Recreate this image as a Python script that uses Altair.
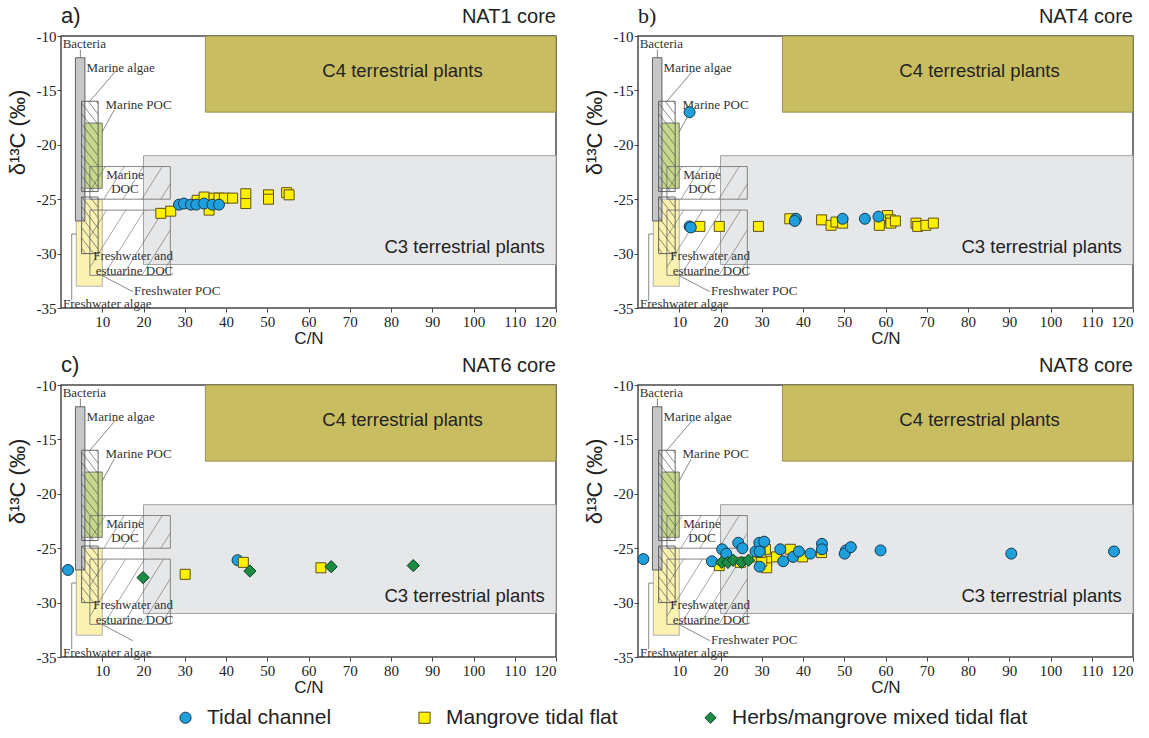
import altair as alt
import pandas as pd

W, H = 495, 272
X_MIN, X_MAX = 0, 120
Y_MIN, Y_MAX = -35, -10

ENVS = ["Tidal channel", "Mangrove tidal flat", "Herbs/mangrove mixed tidal flat"]
FILLS = ["#1fa0dd", "#fff000", "#1b8b45"]
STROKES = ["#16384f", "#5e5018", "#0f3e22"]
SHAPES = ["circle", "square", "diamond"]
SIZES = {"Tidal channel": 120, "Mangrove tidal flat": 100, "Herbs/mangrove mixed tidal flat": 150}

# ---- sample values (C/N, d13C) per core and environment ----
nat1_tidal_cn = [28.6, 29.8, 31.5, 32.8, 34.7, 36.7, 38.3]
nat1_tidal_d13c = [-25.5, -25.4, -25.5, -25.5, -25.4, -25.5, -25.5]
nat1_mangrove_cn = [24.2, 26.6, 33.0, 34.7, 35.9, 37.1, 38.3, 39.6, 41.6, 44.8, 44.8, 50.3, 50.3, 54.7, 55.3]
nat1_mangrove_d13c = [-26.3, -26.1, -25.1, -24.8, -26.0, -24.9, -24.9, -24.9, -24.9, -24.5, -25.4, -24.6, -25.0, -24.4, -24.6]

nat4_tidal_cn = [12.5, 12.5, 12.8, 38.3, 38.0, 49.6, 55.0, 58.3]
nat4_tidal_d13c = [-17.0, -27.5, -27.6, -26.8, -27.0, -26.8, -26.8, -26.6]
nat4_mangrove_cn = [15.0, 19.7, 29.2, 36.8, 44.5, 46.8, 48.0, 49.6, 58.5, 60.5, 61.2, 61.3, 62.4, 67.4, 67.8, 69.8, 71.6]
nat4_mangrove_d13c = [-27.5, -27.5, -27.5, -26.8, -26.9, -27.4, -27.1, -27.2, -27.4, -26.5, -26.9, -27.2, -27.0, -27.2, -27.5, -27.4, -27.2]

nat6_tidal_cn = [1.7, 42.8]
nat6_tidal_d13c = [-27.0, -26.1]
nat6_mangrove_cn = [30.1, 44.2, 63.0]
nat6_mangrove_d13c = [-27.4, -26.3, -26.8]
nat6_herbs_cn = [19.9, 45.8, 65.5, 85.4]
nat6_herbs_d13c = [-27.7, -27.1, -26.7, -26.6]

nat8_tidal_cn = [1.3, 17.9, 20.4, 21.4, 24.3, 25.3, 28.5, 29.4, 30.6, 29.5, 29.5, 34.5, 35.2, 37.6,
                 39.0, 41.8, 44.6, 44.6, 50.4, 50.1, 51.6, 58.8, 90.5, 115.4]
nat8_tidal_d13c = [-26.0, -26.2, -25.1, -25.5, -24.5, -25.0, -25.3, -24.5, -24.4, -25.3, -26.7, -25.1, -26.2, -25.8,
                   -25.3, -25.5, -24.6, -25.1, -25.2, -25.5, -24.9, -25.2, -25.5, -25.3]
nat8_mangrove_cn = [19.7, 24.8, 29.0, 30.9, 31.2, 31.2, 30.0, 33.6, 36.9, 39.9, 44.5, 29.6]
nat8_mangrove_d13c = [-26.6, -26.3, -25.8, -25.1, -26.2, -26.8, -26.2, -25.8, -25.1, -25.8, -25.4, -25.4]
nat8_herbs_cn = [20.3, 21.8, 23.1, 25.1, 26.8]
nat8_herbs_d13c = [-26.3, -26.3, -26.1, -26.3, -26.1]

# ---- source end-member fields (C/N range, d13C range) ----
c4_box = (35, 120, -10, -17)
c3_box = (20, 120, -21, -31)
bacteria_box = (3.5, 5.8, -12, -27)
marine_algae_box = (3.7, 10, -18, -24)
freshwater_algae_box = (3.7, 10, -25, -33)
marine_poc_box = (5, 9, -16, -24.3)
freshwater_poc_box = (5, 9, -24.8, -30)
marine_doc_box = (7, 26.5, -22, -25)
freshwater_doc_box = (7, 26.5, -26, -32)

# annotation text and leader lines (C/N, d13C)
source_labels = [
    ("Bacteria", 0.4, -10.75, "left"),
    ("Marine algae", 6.2, -12.9, "left"),
    ("Marine POC", 10.8, -16.3, "left"),
    ("Marine", 15.5, -22.75, "center"),
    ("DOC", 15.5, -24.1, "center"),
    ("Freshwater and", 7.8, -30.2, "left"),
    ("estuarine DOC", 8.4, -31.6, "left"),
    ("Freshwater POC", 17.7, -33.4, "left"),
    ("Freshwater algae", 0.5, -34.6, "left"),
]
leaders = [
    (4.7, -11.25, 4.7, -12.0),
    (13.3, -13.2, 7.0, -16.0),
    (12.9, -16.8, 10.0, -18.8),
    (17.4, -33.5, 9.9, -32.0),
    (2.6, -34.3, 2.6, -28.2),
    (2.6, -28.2, 3.7, -28.2),
]

PX = W / (X_MAX - X_MIN)
PY = H / (Y_MAX - Y_MIN)


def hatch(box, slope, step):
    """Diagonal hatch segments clipped to a box; slope and step in screen pixels."""
    x0, x1 = sorted(box[:2])
    y0, y1 = sorted(box[2:])
    X0, X1 = x0 * PX, x1 * PX
    Y0, Y1 = (y0 - Y_MIN) * PY, (y1 - Y_MIN) * PY
    k = slope
    if k > 0:
        c_lo, c_hi = Y0 - k * X1, Y1 - k * X0
    else:
        c_lo, c_hi = Y0 - k * X0, Y1 - k * X1
    dc = abs(k) * step
    segs = []
    c = c_lo + dc / 2
    while c < c_hi:
        if k > 0:
            xa, xb = max(X0, (Y0 - c) / k), min(X1, (Y1 - c) / k)
        else:
            xa, xb = max(X0, (Y1 - c) / k), min(X1, (Y0 - c) / k)
        if xb - xa > 0.5:
            segs.append((xa / PX, (k * xa + c) / PY + Y_MIN, xb / PX, (k * xb + c) / PY + Y_MIN))
        c += dc
    return segs


XSCALE = alt.Scale(domain=[X_MIN, X_MAX], nice=False, zero=False)
YSCALE = alt.Scale(domain=[Y_MIN, Y_MAX], nice=False, zero=False)
XAXIS = alt.Axis(values=list(range(10, 121, 10)), title="C/N", grid=False, domain=False,
                 tickSize=4, tickColor="#444", labelFont="Liberation Serif", labelFontSize=15,
                 labelColor="#222", labelPadding=2, titleFont="Liberation Sans", titleFontSize=17,
                 titleFontWeight="normal", titleColor="#222", titlePadding=1)
YAXIS = alt.Axis(values=[-35, -30, -25, -20, -15, -10], labelExpr="'' + datum.value",
                 title="δ¹³C (‰)", grid=False, domain=False, tickSize=4, tickColor="#444",
                 labelFont="Liberation Serif", labelFontSize=15, labelColor="#222", labelPadding=1,
                 titleFont="Liberation Sans", titleFontSize=22, titleFontWeight="normal",
                 titleColor="#222", titleX=-32, titleY=96)


def xe(f):
    return alt.X(f, type="quantitative", scale=XSCALE, axis=XAXIS)


def ye(f):
    return alt.Y(f, type="quantitative", scale=YSCALE, axis=YAXIS)


def box_df(boxes):
    return pd.DataFrame(boxes, columns=["x", "x2", "y", "y2"])


def rect_layer(box, fill, stroke, width=1.0):
    return alt.Chart(box_df([box])).mark_rect(fill=fill, stroke=stroke, strokeWidth=width).encode(
        x=xe("x"), x2="x2", y=ye("y"), y2="y2")


def outline_layer(boxes, stroke, width=0.9):
    return alt.Chart(box_df(boxes)).mark_rect(fillOpacity=0, stroke=stroke, strokeWidth=width).encode(
        x=xe("x"), x2="x2", y=ye("y"), y2="y2")


def segment_layer(segs, stroke, width):
    df = pd.DataFrame(segs, columns=["x", "y", "x2", "y2"])
    return alt.Chart(df).mark_rule(stroke=stroke, strokeWidth=width).encode(
        x=xe("x"), x2="x2", y=ye("y"), y2="y2")


LEG = alt.Legend(orient="none", legendX=114, legendY=671, direction="horizontal", title=None,
                 labelFont="Liberation Sans", labelFontSize=21, labelColor="#222", labelLimit=500,
                 symbolSize=125, symbolStrokeWidth=1, columnPadding=82, labelOffset=11)


def point_layer(env, cn, d):
    df = pd.DataFrame({"cn": cn, "d13c": d, "env": env})
    return alt.Chart(df).mark_point(filled=True, opacity=1, strokeWidth=1, size=SIZES[env]).encode(
        x=xe("cn"), y=ye("d13c"),
        shape=alt.Shape("env:N", scale=alt.Scale(domain=ENVS, range=SHAPES), legend=LEG),
        fill=alt.Fill("env:N", scale=alt.Scale(domain=ENVS, range=FILLS), legend=LEG),
        stroke=alt.Stroke("env:N", scale=alt.Scale(domain=ENVS, range=STROKES), legend=LEG),
    )


def panel(letter, letter_font, core, series, show_fw_poc=True):
    labels = [l for l in source_labels if show_fw_poc or l[0] != "Freshwater POC"]
    lab_df = pd.DataFrame(labels, columns=["text", "x", "y", "align"])

    hatch_doc = hatch(marine_doc_box, 1.6, 19) + hatch(freshwater_doc_box, 1.6, 19)
    hatch_poc = hatch(marine_poc_box, -1.3, 8) + hatch(freshwater_poc_box, -1.3, 8)

    layers = [
        rect_layer(c3_box, "#e6e7e9", "#a3a3a3", 1.0),
        rect_layer(c4_box, "#c9bd62", "#8c8040", 0.8),
        rect_layer(marine_algae_box, "#c6d88b", "#6b6b6b", 0.9),
        rect_layer(freshwater_algae_box, "#fbf2b1", "#a8a8a8", 0.9),
        rect_layer(bacteria_box, "#c6c7c9", "#555555", 0.9),
        segment_layer(hatch_doc, "#666666", 0.6),
        outline_layer([marine_doc_box, freshwater_doc_box], "#777777", 0.9),
        segment_layer(hatch_poc, "#444444", 0.6),
        outline_layer([marine_poc_box, freshwater_poc_box], "#555555", 0.9),
        segment_layer(leaders, "#555555", 0.7),
    ]
    for al in ["left", "center"]:
        sub = lab_df[lab_df["align"] == al]
        layers.append(
            alt.Chart(sub).mark_text(align=al, baseline="middle", font="Liberation Serif",
                                     fontSize=13, color="#333").encode(
                x=xe("x"), y=ye("y"), text="text:N"))
    plant_df = pd.DataFrame({"text": ["C4 terrestrial plants", "C3 terrestrial plants"],
                             "x": [82.8, 117.3], "y": [-13.2, -29.4], "align": ["center", "right"]})
    for al in ["center", "right"]:
        layers.append(
            alt.Chart(plant_df[plant_df["align"] == al]).mark_text(
                align=al, baseline="middle", font="Liberation Sans", fontSize=18.5,
                color="#222").encode(x=xe("x"), y=ye("y"), text="text:N"))

    for env, cn, d in series:
        layers.append(point_layer(env, cn, d))

    title_df = pd.DataFrame({"letter": [letter], "core": [core]})
    if letter:
        layers.append(alt.Chart(title_df).mark_text(
            align="left", baseline="middle", font=letter_font, fontSize=22, color="#222").encode(
            x=alt.value(0), y=alt.value(-20), text="letter:N"))
    layers.append(alt.Chart(title_df).mark_text(
        align="right", baseline="middle", font="Liberation Sans", fontSize=20, color="#222").encode(
        x=alt.value(W), y=alt.value(-19), text="core:N"))

    return alt.layer(*layers).properties(width=W, height=H)


T, M, HB = ENVS
pa = panel("a)", "Liberation Sans", "NAT1 core",
           [(M, nat1_mangrove_cn, nat1_mangrove_d13c), (T, nat1_tidal_cn, nat1_tidal_d13c)])
pb = panel("b)", "Liberation Serif", "NAT4 core",
           [(M, nat4_mangrove_cn, nat4_mangrove_d13c), (T, nat4_tidal_cn, nat4_tidal_d13c)])
pc = panel("c)", "Liberation Sans", "NAT6 core",
           [(T, nat6_tidal_cn, nat6_tidal_d13c), (M, nat6_mangrove_cn, nat6_mangrove_d13c),
            (HB, nat6_herbs_cn, nat6_herbs_d13c)], show_fw_poc=False)
pd_ = panel("", "Liberation Sans", "NAT8 core",
            [(M, nat8_mangrove_cn, nat8_mangrove_d13c), (T, nat8_tidal_cn, nat8_tidal_d13c),
             (HB, nat8_herbs_cn, nat8_herbs_d13c)])

chart = alt.concat(pa, pb, pc, pd_, columns=2).properties(
    spacing={"row": 77, "column": 82},
    bounds="flush",
    padding={"left": 5, "top": 4, "right": 0, "bottom": 0},
    background="white",
).configure_view(stroke="#4a4a4a", strokeWidth=1.5)

chart.save("out.html", embed_options={"renderer": "svg", "actions": False})
